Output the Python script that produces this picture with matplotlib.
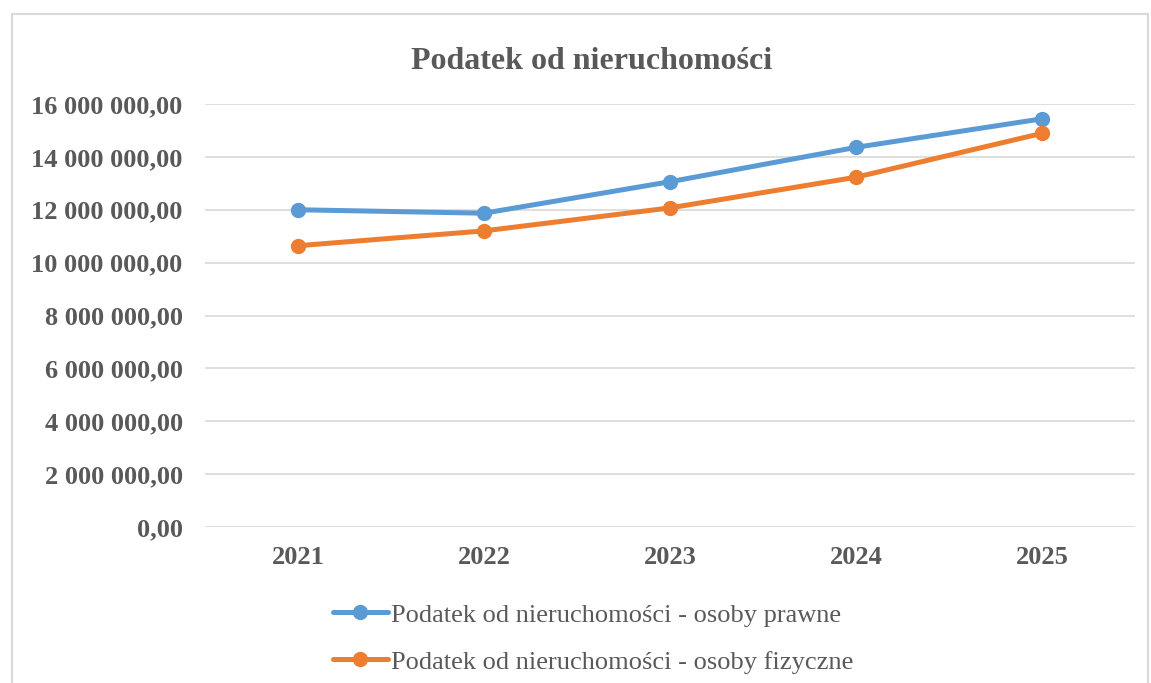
import matplotlib
matplotlib.use('Agg')
import matplotlib.pyplot as plt
from matplotlib.patches import Rectangle

# dane
years = ['2021', '2022', '2023', '2024', '2025']
prawne = [12000000, 11870000, 13060000, 14360000, 15440000]
fizyczne = [10640000, 11200000, 12070000, 13230000, 14890000]
label_prawne = 'Podatek od nieruchomości - osoby prawne'
label_fizyczne = 'Podatek od nieruchomości - osoby fizyczne'
title = 'Podatek od nieruchomości'

plt.rcParams['font.family'] = ['Liberation Serif', 'DejaVu Serif']
grey = '#595959'

fig = plt.figure(figsize=(11.51, 6.83), dpi=100)
ax = fig.add_axes([0.178, 0.2284, 0.808, 0.6193])

x = range(len(years))
ax.plot(x, prawne, color='#5B9BD5', lw=3.6, marker='o', ms=10, label=label_prawne, solid_capstyle='round')
ax.plot(x, fizyczne, color='#ED7D31', lw=3.6, marker='o', ms=10, label=label_fizyczne, solid_capstyle='round')

ax.set_xlim(-0.5, len(years) - 0.5)
ax.set_ylim(0, 16000000)
ax.set_yticks(range(0, 16000001, 2000000))
ax.set_yticklabels([f'{v:,}'.replace(',', ' ') + ',00' for v in range(0, 16000001, 2000000)])
ax.set_xticks(list(x))
ax.set_xticklabels(years)
ax.tick_params(length=0, labelsize=19, colors=grey)
for lab in ax.get_xticklabels() + ax.get_yticklabels():
    lab.set_fontweight('bold')
ax.tick_params(axis='y', pad=16)
ax.tick_params(axis='x', pad=14)
ax.grid(axis='y', color='#D9D9D9', lw=1.2)
ax.set_axisbelow(True)
for s in ax.spines.values():
    s.set_visible(False)

fig.text(0.514, 0.91, title, ha='center', va='center', fontsize=23, fontweight='bold', color=grey)

leg = fig.legend(loc='center', bbox_to_anchor=(0.515, 0.0653), ncol=1, frameon=False,
                 fontsize=19, handlelength=2.1, handletextpad=0.1, labelspacing=0.89,
                 labelcolor=grey)

fig.patches.append(Rectangle((12 / 1151, -0.02), 1136 / 1151, 1 - 14 / 683 + 0.02,
                             transform=fig.transFigure, fill=False, ec='#D9D9D9', lw=1.5))

fig.savefig('out.png', dpi=100)
